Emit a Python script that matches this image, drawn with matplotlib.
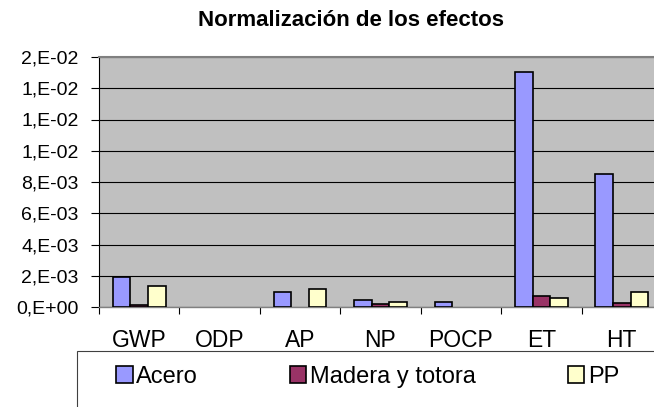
import numpy as np
import matplotlib
matplotlib.use("Agg")
import matplotlib.pyplot as plt
from matplotlib.patches import Rectangle, Patch

plt.rcParams['font.family'] = ['Liberation Sans', 'DejaVu Sans']

categories = ["GWP", "ODP", "AP", "NP", "POCP", "ET", "HT"]
acero = [0.00192, 0.0, 0.00096, 0.00045, 0.00030, 0.01502, 0.00851]
madera = [0.00015, 0.0, 0.0, 0.00020, 0.0, 0.00068, 0.00028]
pp = [0.00134, 0.0, 0.00113, 0.00030, 0.0, 0.00060, 0.00096]
series_names = ["Acero", "Madera y totora", "PP"]
yticks = [0, 0.002, 0.004, 0.006, 0.008, 0.010, 0.012, 0.014, 0.016]
ytick_labels = ["0,E+00", "2,E-03", "4,E-03", "6,E-03", "8,E-03",
                "1,E-02", "1,E-02", "1,E-02", "2,E-02"]

colors = ["#9999FF", "#993366", "#FFFFCC"]

W, H = 654, 407
fig = plt.figure(figsize=(W / 100, H / 100), dpi=100)
ax = fig.add_axes([99 / W, 1 - 307 / H, 563 / W, 250 / H])
ax.set_facecolor("#C0C0C0")

x = np.arange(len(categories))
bw = 0.218
for k, (vals, c) in enumerate(zip([acero, madera, pp], colors)):
    # excel draws nothing for a zero bar, so drop the outline there
    lws = [1.2 if v > 0 else 0 for v in vals]
    ax.bar(x + (k - 1) * bw, vals, width=bw, color=c, edgecolor="black",
           linewidth=lws, zorder=3)

ax.set_xlim(-0.5, len(categories) - 0.5)
ax.set_ylim(0, 0.016)
ax.set_yticks(yticks)
ax.set_yticklabels(ytick_labels, fontsize=14)
ax.yaxis.grid(True, color="black", linewidth=0.8, zorder=1)
ax.set_axisbelow(True)

ax.set_xticks(x)
ax.set_xticklabels(categories, fontsize=16.5)
ax.set_xticks(np.arange(len(categories) + 1) - 0.5, minor=True)
ax.tick_params(axis="x", which="major", length=0, pad=16)
ax.tick_params(axis="x", which="minor", length=5, width=0.8, direction="out")
ax.tick_params(axis="y", length=6, width=0.8, pad=8.5)

ax.spines["right"].set_visible(False)
ax.spines["top"].set_color("#808080")
ax.spines["top"].set_linewidth(1.5)
ax.spines["left"].set_linewidth(0.8)
ax.spines["bottom"].set_color("#808080")
ax.spines["bottom"].set_linewidth(1.0)

fig.text(351 / W, 1 - 21 / H, "Normalización de los efectos", ha="center",
         va="center", fontsize=16, fontweight="bold")

# legend frame, runs off the bottom and right edges
fig.add_artist(Rectangle((77 / W, -0.1), 1.0, 0.1 + (1 - 351 / H),
                         transform=fig.transFigure, fill=False,
                         edgecolor="#404040", linewidth=0.8))

handles = [Patch(facecolor=c, edgecolor="black", linewidth=1.2) for c in colors]
fig.legend(handles, series_names, loc="center left",
           bbox_to_anchor=(116 / W, 1 - 377 / H), ncol=3, frameon=False,
           fontsize=17, borderpad=0, borderaxespad=0, handlelength=0.7,
           handleheight=0.7, handletextpad=0.15, columnspacing=3.9)

fig.savefig("out.png", dpi=100)
